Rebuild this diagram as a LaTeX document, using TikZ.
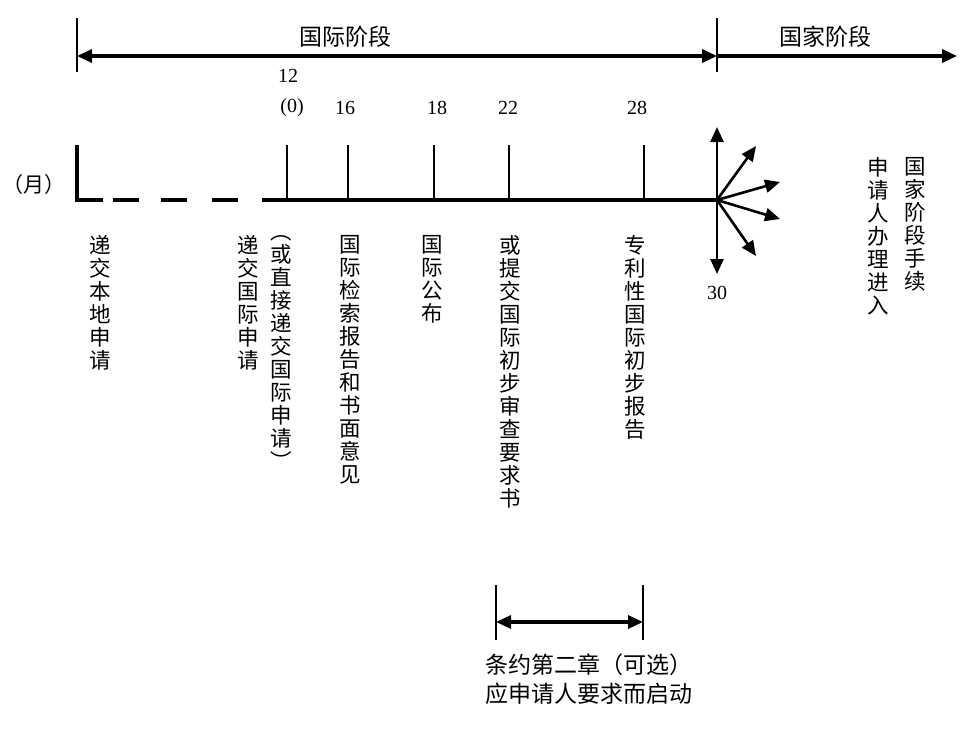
\documentclass[tikz,border=0pt]{standalone}
\usepackage{fontspec}
\setmainfont{Liberation Serif}
\newfontfamily\cjk{Noto Sans CJK SC}
\usetikzlibrary{arrows.meta}
\begin{document}
\begin{tikzpicture}[x=1pt,y=-1pt,
  bar/.style={line width=2pt},
  mainln/.style={line width=3.2pt},
  tickln/.style={line width=2.6pt},
  tipa/.style={-{Triangle[length=15pt,width=13pt]}},
  tipb/.style={{Triangle[length=15pt,width=13pt]}-{Triangle[length=15pt,width=13pt]}},
  vt/.style={anchor=north,inner sep=0pt,align=center,font=\cjk\fontsize{21.5}{23}\selectfont},
  lbl/.style={inner sep=0pt,font=\cjk\fontsize{23}{24}\selectfont},
  num/.style={inner sep=0pt,font=\fontsize{20}{20}\selectfont}]
\useasboundingbox (0,0) rectangle (968,753);
% top phase arrows
\coordinate (L0) at (77,18); \coordinate (L1) at (77,72);
\coordinate (M0) at (717,18); \coordinate (M1) at (717,72);
\coordinate (TA) at (77,56); \coordinate (TB) at (717,56); \coordinate (TC) at (957,56);
\draw[bar] (L0) -- (L1);
\draw[bar] (M0) -- (M1);
\draw[mainln,tipb] (TA) -- (TB);
\draw[mainln,tipa] (TB) -- (TC);
\node[lbl] (intl) at (345,37) {国际阶段};
\node[lbl] (natl) at (825,37) {国家阶段};
% month numbers
\node[num] (n12) at (288,76) {12};
\node[num] (n0) at (292,108) {(0)};
\node[num] (n16) at (345,108) {16};
\node[num] (n18) at (437,108) {18};
\node[num] (n22) at (508,108) {22};
\node[num] (n28) at (637,108) {28};
\node[num] (n30) at (717,293) {30};
\node[inner sep=0pt,font=\cjk\fontsize{21}{22}\selectfont] (month) at (34,185) {（月）};
% timeline
\coordinate (S0) at (77,145); \coordinate (S1) at (77,200);
\coordinate (E) at (717,200);
\draw[mainln] (S0) -- (S1) -- (103,200);
\draw[mainln] (113,200) -- (139,200);
\draw[mainln] (161,200) -- (187,200);
\draw[mainln] (212,200) -- (238,200);
\draw[mainln] (262,200) -- (E);
\foreach \x in {287,348,434,509,644} \draw[tickln] (\x,145) -- (\x,200);
% arrows at 30
\coordinate (U) at (717,127); \coordinate (D) at (717,274);
\coordinate (A1) at (756,146); \coordinate (A2) at (780,182);
\coordinate (A3) at (780,219); \coordinate (A4) at (756,256);
\foreach \t in {U,D,A1,A2,A3,A4} \draw[tickln,tipa] (E) -- (\t);
% vertical texts
\node[vt] (t1) at (100,235) {递\\交\\本\\地\\申\\请};
\node[vt] (t2) at (248,235) {递\\交\\国\\际\\申\\请};
\node[vt] (t3) at (281,235) {︵\\或\\直\\接\\递\\交\\国\\际\\申\\请\\︶};
\node[vt] (t4) at (350,235) {国\\际\\检\\索\\报\\告\\和\\书\\面\\意\\见};
\node[vt] (t5) at (432,235) {国\\际\\公\\布};
\node[vt] (t6) at (510,235) {或\\提\\交\\国\\际\\初\\步\\审\\查\\要\\求\\书};
\node[vt] (t7) at (635,235) {专\\利\\性\\国\\际\\初\\步\\报\\告};
\node[vt] (t8) at (878,157) {申\\请\\人\\办\\理\\进\\入};
\node[vt] (t9) at (915,157) {国\\家\\阶\\段\\手\\续};
% chapter II bracket
\coordinate (B0) at (496,585); \coordinate (B1) at (496,640);
\coordinate (C0) at (643,585); \coordinate (C1) at (643,640);
\coordinate (BA) at (496,622); \coordinate (BB) at (643,622);
\draw[bar] (B0) -- (B1);
\draw[bar] (C0) -- (C1);
\draw[mainln,tipb] (BA) -- (BB);
\node[lbl,anchor=west] (c1) at (485,665) {条约第二章（可选）};
\node[lbl,anchor=west] (c2) at (485,694) {应申请人要求而启动};
\end{tikzpicture}
\end{document}
